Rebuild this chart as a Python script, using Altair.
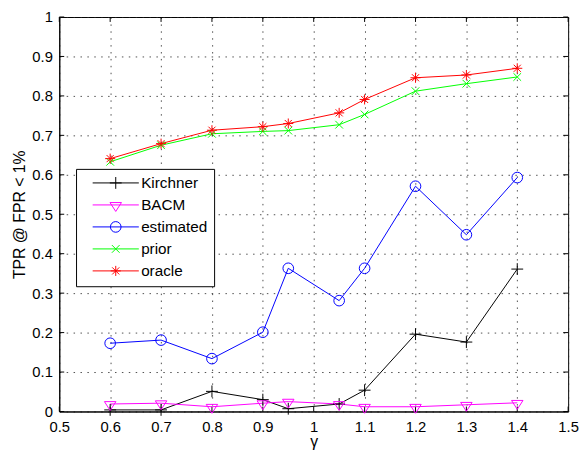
import altair as alt
import pandas as pd

# ---- data ----
gamma = [0.6, 0.7, 0.8, 0.9, 0.95, 1.05, 1.1, 1.2, 1.3, 1.4]
kirchner = [0.004, 0.004, 0.051, 0.030, 0.007, 0.019, 0.054, 0.196, 0.176, 0.361]
bacm = [0.019, 0.021, 0.012, 0.021, 0.025, 0.019, 0.012, 0.012, 0.017, 0.022]
estimated = [0.173, 0.181, 0.134, 0.201, 0.363, 0.281, 0.363, 0.571, 0.448, 0.593]
prior = [0.633, 0.675, 0.704, 0.710, 0.712, 0.727, 0.753, 0.812, 0.831, 0.848]
oracle = [0.641, 0.679, 0.713, 0.722, 0.730, 0.757, 0.791, 0.846, 0.853, 0.870]

series_names = ["Kirchner", "BACM", "estimated", "prior", "oracle"]
series_colors = ["#000000", "#ff00ff", "#0000ff", "#00ff00", "#ff0000"]
x_ticks = [0.5, 0.6, 0.7, 0.8, 0.9, 1.0, 1.1, 1.2, 1.3, 1.4, 1.5]
y_ticks = [0.0, 0.1, 0.2, 0.3, 0.4, 0.5, 0.6, 0.7, 0.8, 0.9, 1.0]

# marker glyphs (MATLAB style: +, v, o, x, *)
marker_paths = [
    "M-1,0L1,0M0,-1L0,1",
    "M-0.97,-0.4L0.97,-0.4L0,1.1Z",
    "M-0.9,0A0.9,0.9 0 1,0 0.9,0A0.9,0.9 0 1,0 -0.9,0Z",
    "M-0.65,-0.65L0.65,0.65M-0.65,0.65L0.65,-0.65",
    "M-0.85,0L0.85,0M0,-0.85L0,0.85M-0.6,-0.6L0.6,0.6M-0.6,0.6L0.6,-0.6",
]
legend_paths = ["M-3.9,0L3.9,0" + p for p in marker_paths]

rows = []
for name, vals in zip(series_names, [kirchner, bacm, estimated, prior, oracle]):
    for g, v in zip(gamma, vals):
        rows.append({"gamma": g, "tpr": v, "series": name})
df = pd.DataFrame(rows)
xt = pd.DataFrame({"gamma": x_ticks})
yt = pd.DataFrame({"tpr": y_ticks})

FONT = "Liberation Sans"
W, H = 516, 400

x_scale = alt.Scale(domain=[0.5, 1.5], nice=False, zero=False)
y_scale = alt.Scale(domain=[0, 1], nice=False)
color_scale = alt.Scale(domain=series_names, range=series_colors)

common_axis = dict(
    grid=True, gridDash=[1.5, 5.5], gridColor="#222", gridOpacity=0.8, gridWidth=1,
    ticks=False, tickSize=0, labelFlush=False, labelOverlap=False,
    labelFont=FONT, labelFontSize=15, labelColor="black",
    titleFont=FONT, titleFontSize=16, titleFontWeight="normal", titleColor="black",
    domainColor="black", domainWidth=1,
)
x_axis = alt.Axis(values=x_ticks, format="~g", labelPadding=8,
                  titleX=W / 2, titleY=36, titleAlign="center", titleBaseline="alphabetic",
                  **common_axis)
y_axis = alt.Axis(values=y_ticks, format="~g", labelPadding=7,
                  titleAngle=270, titleX=-40, titleY=H / 2, titleAlign="center",
                  titleBaseline="middle", **common_axis)

x_enc = alt.X("gamma:Q", scale=x_scale, axis=x_axis, title="γ")
y_enc = alt.Y("tpr:Q", scale=y_scale, axis=y_axis, title="TPR @ FPR < 1%")

leg = alt.Legend(
    title=None, orient="none", legendX=17, legendY=154, direction="vertical",
    fillColor="white", strokeColor="black", padding=6.5, cornerRadius=0,
    labelFont=FONT, labelFontSize=15.5, labelColor="black", labelLimit=300,
    labelOffset=18, symbolOffset=26, symbolSize=144, symbolStrokeWidth=1,
    rowPadding=5.3,
)

lines = alt.Chart(df).mark_line(strokeWidth=1).encode(
    x=x_enc, y=y_enc,
    color=alt.Color("series:N", scale=color_scale, legend=None),
)
points = alt.Chart(df).mark_point(filled=False, strokeWidth=1, size=144, opacity=1).encode(
    x=x_enc, y=y_enc,
    color=alt.Color("series:N", scale=color_scale, legend=None),
    shape=alt.Shape("series:N", scale=alt.Scale(domain=series_names, range=marker_paths), legend=None),
)
legend_layer = alt.Chart(df).transform_filter("false").mark_point(
    filled=False, strokeWidth=1, size=144, opacity=1
).encode(
    x=x_enc, y=y_enc,
    color=alt.Color("series:N", scale=color_scale, legend=leg),
    shape=alt.Shape("series:N", scale=alt.Scale(domain=series_names, range=legend_paths), legend=leg),
)

bottom_ticks = alt.Chart(xt).mark_rule(color="black", strokeWidth=1).encode(
    x=x_enc, y=alt.value(H), y2=alt.value(H - 5))
top_ticks = alt.Chart(xt).mark_rule(color="black", strokeWidth=1).encode(
    x=x_enc, y=alt.value(0), y2=alt.value(5))
left_ticks = alt.Chart(yt).mark_rule(color="black", strokeWidth=1).encode(
    y=y_enc, x=alt.value(0), x2=alt.value(5))
right_ticks = alt.Chart(yt).mark_rule(color="black", strokeWidth=1).encode(
    y=y_enc, x=alt.value(W), x2=alt.value(W - 5))

chart = alt.layer(
    bottom_ticks, top_ticks, left_ticks, right_ticks, lines, points, legend_layer
).resolve_scale(
    color="independent", shape="independent"
).properties(
    width=W, height=H,
    autosize=alt.AutoSizeParams(type="none"),
    padding={"left": 52, "top": 6, "right": 11, "bottom": 42},
    background="white",
).configure_view(stroke="black", strokeWidth=1)

chart.save("out.html", embed_options={"renderer": "svg", "actions": False})
